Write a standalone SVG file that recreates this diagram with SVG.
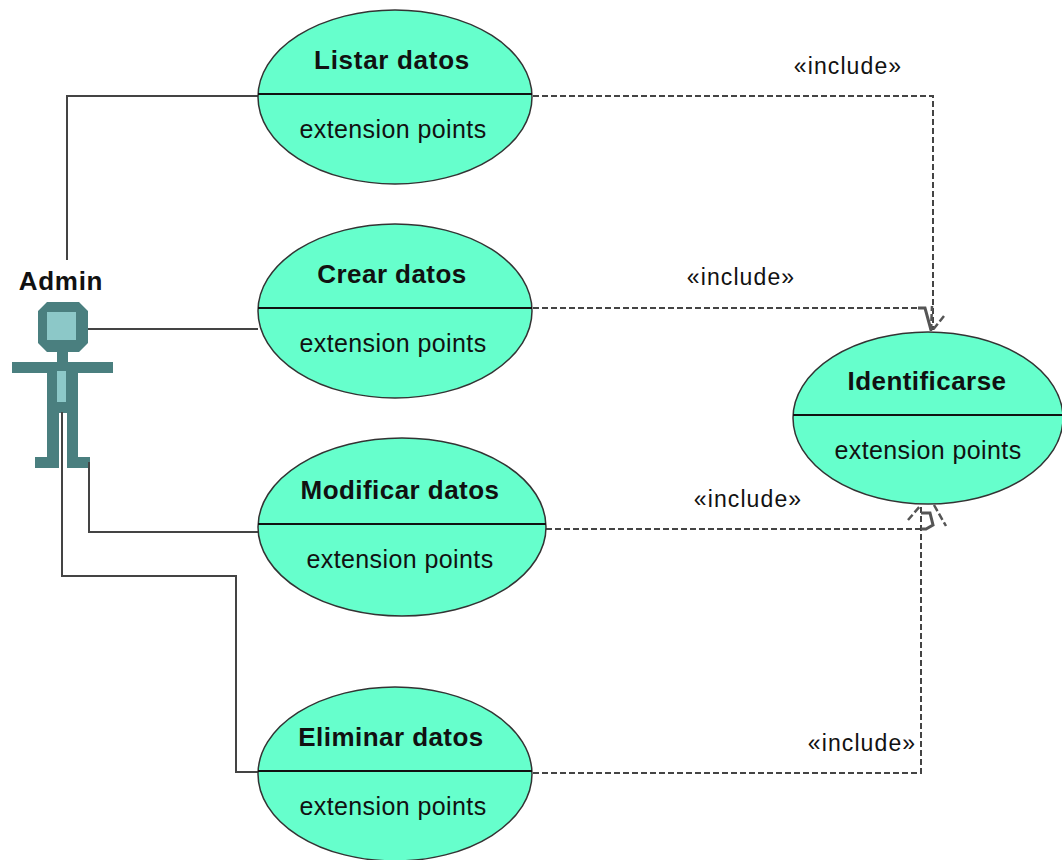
<svg xmlns="http://www.w3.org/2000/svg" width="1062" height="860" viewBox="0 0 1062 860">
<style>
.uc{fill:#66ffcc;stroke:#333;stroke-width:1.5}
.sep{stroke:#111;stroke-width:2;fill:none}
.t{font-family:"Liberation Sans",Arial,sans-serif;fill:#111;text-anchor:middle}
.b{font-size:26px;font-weight:bold;letter-spacing:.45px}
.l{letter-spacing:.7px}
.e{font-size:25px;letter-spacing:.4px}
.i{font-size:23px;letter-spacing:1.1px}
.a{fill:none;stroke:#444;stroke-width:2}
.d{fill:none;stroke:#444;stroke-width:2;stroke-dasharray:6 3}
.h{fill:none;stroke:#555;stroke-width:2.5;stroke-dasharray:7 3}
.s{fill:none;stroke:#555;stroke-width:3}
.body{fill:#4a7f7f}
.lit{fill:#8cc8c8}
</style>
<rect width="1062" height="860" fill="#fff"/>
<g id="connectors">
<path class="a" d="M67 260V96H258"/>
<path class="a" d="M86 329H258"/>
<path class="a" d="M89 462V532H258"/>
<path class="a" d="M62 412V576H236V772H258"/>
<path class="d" d="M533 96H933V330"/>
<path class="d" d="M533 308H920"/>
<path class="d" d="M546 529H921"/>
<path class="d" d="M533 773H921V505"/>
<path class="s" d="M918 308H925L931 330"/>
<path class="h" d="M944 316L932 331M931 331L932 306"/>
<path class="h" d="M908 520L921 505M934 505L946 526"/>
<path class="s" d="M921 513H930L933 525L926 529H921"/>
</g>
<g id="listar"><ellipse class="uc" cx="395" cy="97" rx="137" ry="87"/><path class="sep" d="M258 94H532"/><text class="t b l" x="392" y="69">Listar datos</text><text class="t e" x="393" y="138">extension points</text></g>
<g id="crear"><ellipse class="uc" cx="395" cy="311" rx="137" ry="87"/><path class="sep" d="M258 308H532"/><text class="t b" x="392" y="283">Crear datos</text><text class="t e" x="393" y="352">extension points</text></g>
<g id="modificar"><ellipse class="uc" cx="402" cy="527" rx="144" ry="89"/><path class="sep" d="M258 524H546"/><text class="t b" x="400" y="499">Modificar datos</text><text class="t e" x="400" y="568">extension points</text></g>
<g id="eliminar"><ellipse class="uc" cx="395" cy="774" rx="137" ry="87"/><path class="sep" d="M258 771H532"/><text class="t b" x="391" y="746">Eliminar datos</text><text class="t e" x="393" y="815">extension points</text></g>
<g id="identificarse"><ellipse class="uc" cx="928" cy="418" rx="135" ry="86"/><path class="sep" d="M793 415H1062"/><text class="t b" x="927" y="390">Identificarse</text><text class="t e" x="928" y="459">extension points</text></g>
<g id="admin">
<text class="t b l" x="61" y="290">Admin</text>
<path class="body" d="M47 302H79L88 311V343L79 352H68V362H113V373H78V457H90V468H67V413H59V468H35V457H47V373H12V362H57V352H47L38 343V311Z"/>
<rect class="lit" x="47" y="312" width="29" height="28"/>
<rect class="lit" x="57" y="371" width="9" height="31"/>
<path class="a" d="M62 412V468M89 462V468"/>
</g>
<g id="labels">
<text class="t i" x="848" y="74">«include»</text>
<text class="t i" x="741" y="285">«include»</text>
<text class="t i" x="748" y="507">«include»</text>
<text class="t i" x="862" y="751">«include»</text>
</g>
</svg>
